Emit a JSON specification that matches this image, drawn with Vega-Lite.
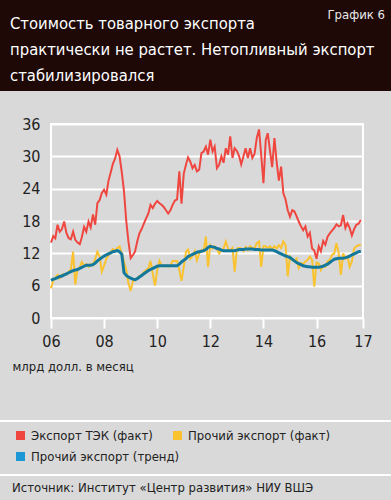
{
  "$schema": "https://vega.github.io/schema/vega-lite/v6.json",
  "width": 312,
  "height": 194,
  "autosize": {"type": "none"},
  "padding": {"left": 51, "top": 124, "right": 28, "bottom": 182},
  "background": "#d9d9d9",
  "config": {
    "font": "DejaVu Sans Condensed, Roboto, sans-serif",
    "view": {"stroke": "white", "strokeWidth": 2}
  },
  "datasets": {
    "m": [
      {"d":"2006-01-01","tek":14.0,"oth":5.5,"trend":7.0},
      {"d":"2006-02-01","tek":15.2,"oth":7.0,"trend":7.2},
      {"d":"2006-03-01","tek":14.8,"oth":7.5,"trend":7.3},
      {"d":"2006-04-01","tek":17.3,"oth":8.0,"trend":7.5},
      {"d":"2006-05-01","tek":16.0,"oth":7.4,"trend":7.7},
      {"d":"2006-06-01","tek":16.5,"oth":8.0,"trend":7.8},
      {"d":"2006-07-01","tek":17.9,"oth":8.2,"trend":8.0},
      {"d":"2006-08-01","tek":15.8,"oth":8.0,"trend":8.2},
      {"d":"2006-09-01","tek":14.8,"oth":8.6,"trend":8.4},
      {"d":"2006-10-01","tek":14.6,"oth":9.0,"trend":8.6},
      {"d":"2006-11-01","tek":16.0,"oth":12.3,"trend":8.8},
      {"d":"2006-12-01","tek":14.5,"oth":6.2,"trend":8.9},
      {"d":"2007-01-01","tek":14.0,"oth":9.1,"trend":9.0},
      {"d":"2007-02-01","tek":13.7,"oth":9.4,"trend":9.2},
      {"d":"2007-03-01","tek":15.0,"oth":10.4,"trend":9.4},
      {"d":"2007-04-01","tek":16.9,"oth":9.7,"trend":9.6},
      {"d":"2007-05-01","tek":16.0,"oth":10.0,"trend":9.8},
      {"d":"2007-06-01","tek":17.9,"oth":9.5,"trend":9.8},
      {"d":"2007-07-01","tek":16.8,"oth":10.0,"trend":9.8},
      {"d":"2007-08-01","tek":19.2,"oth":9.8,"trend":9.9},
      {"d":"2007-09-01","tek":17.3,"oth":11.0,"trend":10.2},
      {"d":"2007-10-01","tek":21.3,"oth":12.3,"trend":10.6},
      {"d":"2007-11-01","tek":21.9,"oth":11.4,"trend":10.9},
      {"d":"2007-12-01","tek":23.2,"oth":8.6,"trend":11.2},
      {"d":"2008-01-01","tek":23.8,"oth":9.7,"trend":11.5},
      {"d":"2008-02-01","tek":22.9,"oth":11.0,"trend":11.7},
      {"d":"2008-03-01","tek":25.4,"oth":11.6,"trend":11.9},
      {"d":"2008-04-01","tek":27.0,"oth":12.3,"trend":12.1},
      {"d":"2008-05-01","tek":28.6,"oth":12.8,"trend":12.3},
      {"d":"2008-06-01","tek":29.6,"oth":12.5,"trend":12.4},
      {"d":"2008-07-01","tek":31.2,"oth":13.0,"trend":12.5},
      {"d":"2008-08-01","tek":30.0,"oth":13.3,"trend":12.3},
      {"d":"2008-09-01","tek":27.0,"oth":12.0,"trend":11.8},
      {"d":"2008-10-01","tek":23.5,"oth":10.5,"trend":8.4},
      {"d":"2008-11-01","tek":18.0,"oth":8.9,"trend":7.9},
      {"d":"2008-12-01","tek":14.2,"oth":6.5,"trend":7.6},
      {"d":"2009-01-01","tek":11.1,"oth":5.0,"trend":7.4},
      {"d":"2009-02-01","tek":11.7,"oth":6.9,"trend":7.2},
      {"d":"2009-03-01","tek":12.3,"oth":7.0,"trend":7.1},
      {"d":"2009-04-01","tek":14.2,"oth":7.4,"trend":7.3},
      {"d":"2009-05-01","tek":15.7,"oth":7.8,"trend":7.6},
      {"d":"2009-06-01","tek":16.5,"oth":8.0,"trend":7.9},
      {"d":"2009-07-01","tek":17.5,"oth":8.5,"trend":8.2},
      {"d":"2009-08-01","tek":18.5,"oth":8.9,"trend":8.5},
      {"d":"2009-09-01","tek":19.4,"oth":9.2,"trend":8.8},
      {"d":"2009-10-01","tek":21.0,"oth":10.6,"trend":9.0},
      {"d":"2009-11-01","tek":20.4,"oth":8.2,"trend":9.2},
      {"d":"2009-12-01","tek":21.2,"oth":6.0,"trend":9.4},
      {"d":"2010-01-01","tek":21.7,"oth":8.9,"trend":9.6},
      {"d":"2010-02-01","tek":21.3,"oth":10.6,"trend":9.7},
      {"d":"2010-03-01","tek":21.0,"oth":9.8,"trend":9.7},
      {"d":"2010-04-01","tek":20.6,"oth":9.6,"trend":9.7},
      {"d":"2010-05-01","tek":20.0,"oth":9.8,"trend":9.7},
      {"d":"2010-06-01","tek":19.4,"oth":9.5,"trend":9.7},
      {"d":"2010-07-01","tek":20.0,"oth":9.8,"trend":9.7},
      {"d":"2010-08-01","tek":21.0,"oth":10.6,"trend":9.7},
      {"d":"2010-09-01","tek":21.8,"oth":10.6,"trend":9.7},
      {"d":"2010-10-01","tek":22.0,"oth":10.6,"trend":9.7},
      {"d":"2010-11-01","tek":27.2,"oth":8.9,"trend":10.0},
      {"d":"2010-12-01","tek":21.2,"oth":6.9,"trend":10.4},
      {"d":"2011-01-01","tek":26.8,"oth":9.5,"trend":10.7},
      {"d":"2011-02-01","tek":28.5,"oth":12.3,"trend":11.0},
      {"d":"2011-03-01","tek":29.8,"oth":12.7,"trend":11.4},
      {"d":"2011-04-01","tek":29.0,"oth":11.0,"trend":11.6},
      {"d":"2011-05-01","tek":27.8,"oth":11.5,"trend":11.8},
      {"d":"2011-06-01","tek":28.4,"oth":12.4,"trend":12.0},
      {"d":"2011-07-01","tek":27.2,"oth":10.7,"trend":12.2},
      {"d":"2011-08-01","tek":27.5,"oth":12.0,"trend":12.3},
      {"d":"2011-09-01","tek":30.6,"oth":12.6,"trend":12.4},
      {"d":"2011-10-01","tek":30.9,"oth":12.4,"trend":12.5},
      {"d":"2011-11-01","tek":31.8,"oth":15.1,"trend":12.7},
      {"d":"2011-12-01","tek":30.3,"oth":9.5,"trend":13.1},
      {"d":"2012-01-01","tek":33.1,"oth":13.5,"trend":13.3},
      {"d":"2012-02-01","tek":30.9,"oth":12.9,"trend":13.2},
      {"d":"2012-03-01","tek":31.8,"oth":13.3,"trend":13.1},
      {"d":"2012-04-01","tek":27.8,"oth":12.8,"trend":12.9},
      {"d":"2012-05-01","tek":28.4,"oth":12.0,"trend":12.8},
      {"d":"2012-06-01","tek":30.0,"oth":12.5,"trend":12.6},
      {"d":"2012-07-01","tek":28.8,"oth":12.9,"trend":12.5},
      {"d":"2012-08-01","tek":31.5,"oth":14.2,"trend":12.5},
      {"d":"2012-09-01","tek":30.3,"oth":12.9,"trend":12.5},
      {"d":"2012-10-01","tek":33.7,"oth":12.5,"trend":12.5},
      {"d":"2012-11-01","tek":29.7,"oth":13.0,"trend":12.5},
      {"d":"2012-12-01","tek":31.5,"oth":8.6,"trend":12.5},
      {"d":"2013-01-01","tek":31.0,"oth":12.9,"trend":12.6},
      {"d":"2013-02-01","tek":30.0,"oth":13.0,"trend":12.7},
      {"d":"2013-03-01","tek":28.5,"oth":12.9,"trend":12.7},
      {"d":"2013-04-01","tek":30.0,"oth":12.4,"trend":12.7},
      {"d":"2013-05-01","tek":31.5,"oth":13.2,"trend":12.8},
      {"d":"2013-06-01","tek":29.7,"oth":12.6,"trend":12.8},
      {"d":"2013-07-01","tek":31.5,"oth":13.3,"trend":12.8},
      {"d":"2013-08-01","tek":29.7,"oth":13.0,"trend":12.8},
      {"d":"2013-09-01","tek":30.5,"oth":12.9,"trend":12.7},
      {"d":"2013-10-01","tek":33.4,"oth":13.9,"trend":12.7},
      {"d":"2013-11-01","tek":35.0,"oth":14.2,"trend":12.7},
      {"d":"2013-12-01","tek":30.3,"oth":9.5,"trend":12.6},
      {"d":"2014-01-01","tek":25.0,"oth":13.3,"trend":12.6},
      {"d":"2014-02-01","tek":33.0,"oth":13.3,"trend":12.6},
      {"d":"2014-03-01","tek":34.3,"oth":13.0,"trend":12.6},
      {"d":"2014-04-01","tek":31.0,"oth":13.3,"trend":12.6},
      {"d":"2014-05-01","tek":28.0,"oth":12.8,"trend":12.6},
      {"d":"2014-06-01","tek":33.4,"oth":13.3,"trend":12.5},
      {"d":"2014-07-01","tek":29.0,"oth":12.9,"trend":12.3},
      {"d":"2014-08-01","tek":25.5,"oth":13.5,"trend":12.1},
      {"d":"2014-09-01","tek":28.1,"oth":13.0,"trend":11.9},
      {"d":"2014-10-01","tek":23.2,"oth":14.2,"trend":11.7},
      {"d":"2014-11-01","tek":22.0,"oth":13.5,"trend":11.5},
      {"d":"2014-12-01","tek":20.0,"oth":7.7,"trend":11.4},
      {"d":"2015-01-01","tek":18.8,"oth":11.4,"trend":11.2},
      {"d":"2015-02-01","tek":20.0,"oth":10.8,"trend":10.9},
      {"d":"2015-03-01","tek":19.8,"oth":10.5,"trend":10.6},
      {"d":"2015-04-01","tek":18.9,"oth":11.0,"trend":10.3},
      {"d":"2015-05-01","tek":17.9,"oth":9.3,"trend":10.1},
      {"d":"2015-06-01","tek":17.0,"oth":10.2,"trend":9.9},
      {"d":"2015-07-01","tek":16.3,"oth":10.0,"trend":9.7},
      {"d":"2015-08-01","tek":17.0,"oth":10.5,"trend":9.6},
      {"d":"2015-09-01","tek":15.1,"oth":10.8,"trend":9.5},
      {"d":"2015-10-01","tek":15.8,"oth":11.4,"trend":9.5},
      {"d":"2015-11-01","tek":12.9,"oth":10.8,"trend":9.4},
      {"d":"2015-12-01","tek":12.5,"oth":5.8,"trend":9.4},
      {"d":"2016-01-01","tek":11.0,"oth":10.3,"trend":9.4},
      {"d":"2016-02-01","tek":13.3,"oth":10.1,"trend":9.4},
      {"d":"2016-03-01","tek":12.4,"oth":8.9,"trend":9.5},
      {"d":"2016-04-01","tek":14.3,"oth":9.8,"trend":9.6},
      {"d":"2016-05-01","tek":13.6,"oth":9.5,"trend":9.8},
      {"d":"2016-06-01","tek":15.1,"oth":10.5,"trend":10.0},
      {"d":"2016-07-01","tek":15.7,"oth":10.8,"trend":10.3},
      {"d":"2016-08-01","tek":16.2,"oth":11.7,"trend":10.6},
      {"d":"2016-09-01","tek":16.7,"oth":12.0,"trend":10.9},
      {"d":"2016-10-01","tek":17.4,"oth":13.9,"trend":11.0},
      {"d":"2016-11-01","tek":17.0,"oth":12.0,"trend":11.1},
      {"d":"2016-12-01","tek":17.2,"oth":8.0,"trend":11.1},
      {"d":"2017-01-01","tek":19.1,"oth":12.0,"trend":11.1},
      {"d":"2017-02-01","tek":16.7,"oth":11.0,"trend":11.2},
      {"d":"2017-03-01","tek":17.6,"oth":11.4,"trend":11.3},
      {"d":"2017-04-01","tek":16.7,"oth":9.5,"trend":11.5},
      {"d":"2017-05-01","tek":15.3,"oth":10.5,"trend":11.7},
      {"d":"2017-06-01","tek":16.5,"oth":12.9,"trend":11.9},
      {"d":"2017-07-01","tek":17.3,"oth":13.3,"trend":12.1},
      {"d":"2017-08-01","tek":17.5,"oth":13.5,"trend":12.3},
      {"d":"2017-09-01","tek":18.2,"oth":13.6,"trend":12.4}
    ]
  },
  "encoding": {
    "x": {
      "field": "d", "type": "temporal",
      "scale": {"type": "utc", "domain": [{"year": 2006, "month": 1, "date": 1, "utc": true}, {"year": 2017, "month": 10, "date": 1, "utc": true}]},
      "axis": {
        "values": [
          {"year": 2006, "month": 1, "date": 1, "utc": true},
          {"year": 2008, "month": 1, "date": 1, "utc": true},
          {"year": 2010, "month": 1, "date": 1, "utc": true},
          {"year": 2012, "month": 1, "date": 1, "utc": true},
          {"year": 2014, "month": 1, "date": 1, "utc": true},
          {"year": 2016, "month": 1, "date": 1, "utc": true},
          {"year": 2017, "month": 10, "date": 1, "utc": true}
        ],
        "labelExpr": "utcFormat(datum.value, '%y')",
        "grid": false, "domain": false,
        "tickColor": "white", "tickWidth": 2, "tickSize": 10,
        "labelFontSize": 16, "labelColor": "#222222", "labelPadding": 5,
        "labelFlush": false, "labelOverlap": false,
        "title": "млрд долл. в месяц",
        "titleFontSize": 13, "titleFontWeight": "normal", "titleColor": "#222222",
        "titleAnchor": "start", "titleAlign": "left", "titleX": -39, "titleY": 52, "titleBaseline": "alphabetic"
      }
    },
    "y": {
      "field": "value", "type": "quantitative",
      "scale": {"domain": [0, 36], "nice": false},
      "axis": {
        "values": [0, 6, 12, 18, 24, 30, 36],
        "grid": true, "gridColor": "white", "gridWidth": 2,
        "domain": false, "ticks": false, "tickSize": 0,
        "labelFontSize": 16, "labelColor": "#222222", "labelPadding": 11,
        "labelOverlap": false, "labelBound": false,
        "title": null
      }
    }
  },
  "layer": [
    {
      "data": {"values": [{}]},
      "mark": {"type": "rect", "fill": "#1e0907"},
      "encoding": {"x": {"value": -51}, "x2": {"value": 340}, "y": {"value": -124}, "y2": {"value": -33}}
    },
    {
      "data": {"values": [{}]},
      "mark": {
        "type": "text",
        "text": ["Стоимость товарного экспорта", "практически не растет. Нетопливный экспорт", "стабилизировался"],
        "align": "left", "baseline": "alphabetic", "fontSize": 16.5, "lineHeight": 26, "color": "white"
      },
      "encoding": {"x": {"value": -41}, "y": {"value": -95}}
    },
    {
      "data": {"values": [{}]},
      "mark": {"type": "text", "text": "График 6", "align": "right", "baseline": "alphabetic", "fontSize": 13, "color": "#e8e8e8"},
      "encoding": {"x": {"value": 334}, "y": {"value": -105}}
    },
    {
      "data": {"values": [{}]},
      "mark": {"type": "rule", "color": "white", "strokeWidth": 2},
      "encoding": {"x": {"value": -51}, "x2": {"value": 340}, "y": {"value": 297}}
    },
    {
      "data": {"values": [{}]},
      "mark": {"type": "rule", "color": "white", "strokeWidth": 2},
      "encoding": {"x": {"value": -51}, "x2": {"value": 340}, "y": {"value": 351}}
    },
    {
      "data": {"values": [{}]},
      "mark": {"type": "text", "text": "Источник: Институт «Центр развития» НИУ ВШЭ", "align": "left", "baseline": "middle", "fontSize": 13, "color": "#222222"},
      "encoding": {"x": {"value": -39}, "y": {"value": 364}}
    },
    {
      "data": {"name": "m"},
      "transform": [{"fold": ["tek", "oth"], "as": ["series", "value"]}],
      "mark": {"type": "line", "strokeWidth": 2},
      "encoding": {
        "color": {
          "field": "series", "type": "nominal",
          "scale": {"domain": ["tek", "oth", "trend"], "range": ["#ef4740", "#f9c22e", "#13789c"]},
          "legend": {
            "orient": "none", "legendX": -37, "legendY": 305,
            "direction": "horizontal",
            "columns": 2, "gridAlign": "none", "columnPadding": -9, "rowPadding": 7,
            "title": null, "padding": 0,
            "symbolType": "square", "symbolSize": 81, "symbolStrokeWidth": 0,
            "labelFontSize": 13, "labelColor": "#222222", "labelOffset": 4, "labelLimit": 300,
            "labelExpr": "datum.value == 'tek' ? 'Экспорт ТЭК (факт)' : datum.value == 'oth' ? 'Прочий экспорт (факт)' : 'Прочий экспорт (тренд)'",
            "encode": {"symbols": {"update": {"fill": {"signal": "datum.value == 'trend' ? '#1b98d5' : scale('color', datum.value)"}, "strokeWidth": {"value": 0}}}}
          }
        }
      }
    },
    {
      "data": {"name": "m"},
      "transform": [{"fold": ["trend"], "as": ["series", "value"]}],
      "mark": {"type": "line", "strokeWidth": 3},
      "encoding": {
        "color": {"field": "series", "type": "nominal"}
      }
    }
  ]
}
